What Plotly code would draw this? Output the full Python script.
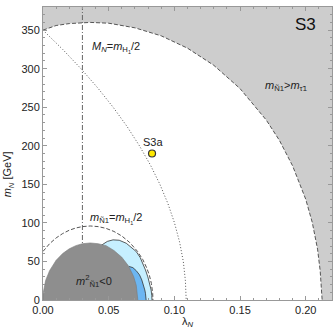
import plotly.graph_objects as go

# ---- data ----
# upper boundary of the excluded grey region (m_N1 > m_tau1)
bound_lam = [0.0, 0.01, 0.02, 0.036, 0.05, 0.07, 0.09, 0.11, 0.13, 0.15, 0.17, 0.18, 0.19, 0.20, 0.205, 0.209, 0.211, 0.2125]
bound_m   = [350, 356, 358.5, 360, 359, 353, 342.6, 326.6, 304.4, 274.2, 233.3, 207, 174, 130.7, 100.5, 66, 38, 0]

# dotted curve M_N = m_H1/2
dot_m   = [350, 325, 300, 275, 250, 225, 200, 175, 150, 125, 100, 75, 50, 25, 0]
dot_lam = [0.0, 0.0150, 0.0289, 0.0417, 0.0534, 0.0640, 0.0734, 0.0818, 0.0890, 0.0951, 0.1001, 0.1040, 0.1068, 0.1084, 0.109]

# dashed curve m_N1 = m_H1/2
hd_lam = [0.0, 0.005, 0.01, 0.015, 0.02, 0.025, 0.03, 0.036, 0.042, 0.048, 0.054, 0.06, 0.066, 0.072, 0.076, 0.079, 0.081, 0.0825, 0.0835, 0.0837]
hd_m   = [63, 73, 80.5, 86.2, 90.5, 93.4, 95.2, 96, 95.2, 92.9, 88.9, 83, 74.6, 63, 52.3, 41.5, 31.9, 21.5, 8.7, 0]

# tachyonic region m^2_N1 < 0
tach_lam = [0.0, 0.0, 0.002, 0.005, 0.01, 0.015, 0.02, 0.025, 0.03, 0.036, 0.042, 0.048, 0.054, 0.06, 0.065, 0.069, 0.071, 0.0722]
tach_m   = [0, 7.8, 25.4, 38, 51.5, 60.3, 66.4, 70.5, 73, 74, 73, 70.5, 64.2, 55.4, 44.3, 30.4, 18.9, 0]

# light blue region (outer visible boundary)
lb_lam = [0.0444, 0.049, 0.0533, 0.058, 0.0634, 0.068, 0.071, 0.074, 0.076, 0.078, 0.0798, 0.0812, 0.0823, 0.0828, 0.083]
lb_m   = [71, 76, 78, 77.5, 73.6, 67, 62.8, 55, 47.6, 39, 30, 21, 13, 6, 0]

# medium blue region (outer visible boundary)
mb_lam = [0.0655, 0.0684, 0.071, 0.0735, 0.0752, 0.0765, 0.0775, 0.078, 0.0785]
mb_m   = [43.5, 42, 38, 32.5, 26, 19.5, 13, 8.7, 0]

# benchmark point
pt_lam = [0.083]
pt_m = [190]
pt_name = ["S3a"]

vline_lam = 0.03

x_ticks = [0.0, 0.05, 0.10, 0.15, 0.20]
x_ticklabels = ["0.00", "0.05", "0.10", "0.15", "0.20"]
y_ticks = [0, 50, 100, 150, 200, 250, 300, 350]

XMAX, YMAX = 0.22, 380

fig = go.Figure()

# light grey excluded region
fig.add_trace(go.Scatter(
    x=bound_lam + [XMAX, XMAX, 0.0], y=bound_m + [0, YMAX, YMAX],
    fill="toself", fillcolor="#cdcdcd", line=dict(width=0), mode="lines",
    hoverinfo="skip", showlegend=False))
fig.add_trace(go.Scatter(
    x=bound_lam, y=bound_m, mode="lines",
    line=dict(color="#555555", width=1, dash="4px,2px"), showlegend=False))

# vertical dash-dot line
fig.add_trace(go.Scatter(
    x=[vline_lam, vline_lam], y=[0, YMAX], mode="lines",
    line=dict(color="#666666", width=1, dash="5px,2px,1px,2px"), showlegend=False))

# dotted curve
fig.add_trace(go.Scatter(
    x=dot_lam, y=dot_m, mode="lines",
    line=dict(color="#555555", width=1, dash="1px,2px"), showlegend=False))

# dashed small curve
fig.add_trace(go.Scatter(
    x=hd_lam, y=hd_m, mode="lines",
    line=dict(color="#555555", width=1, dash="4px,2px"), showlegend=False))

# light blue region
fig.add_trace(go.Scatter(
    x=lb_lam + [0.045], y=lb_m + [0], fill="toself", fillcolor="#c6efff",
    line=dict(width=0), mode="lines", hoverinfo="skip", showlegend=False))
fig.add_trace(go.Scatter(
    x=lb_lam, y=lb_m, mode="lines",
    line=dict(color="#333333", width=0.8), showlegend=False))

# medium blue region
fig.add_trace(go.Scatter(
    x=mb_lam + [0.066], y=mb_m + [0], fill="toself", fillcolor="#6cb6f2",
    line=dict(width=0), mode="lines", hoverinfo="skip", showlegend=False))
fig.add_trace(go.Scatter(
    x=mb_lam, y=mb_m, mode="lines",
    line=dict(color="#333333", width=0.8), showlegend=False))

# tachyonic region
fig.add_trace(go.Scatter(
    x=tach_lam, y=tach_m, fill="toself", fillcolor="#8e8e8e",
    line=dict(color="#7a7a7a", width=0.6), mode="lines", hoverinfo="skip", showlegend=False))

# benchmark point
fig.add_trace(go.Scatter(
    x=pt_lam, y=pt_m, mode="markers",
    marker=dict(color="#ffe800", size=7, line=dict(color="#333333", width=1.2)),
    showlegend=False))

font = dict(family="Liberation Sans, Arial, sans-serif", size=11, color="#222222")
ann = [
    dict(x=0.0356, y=327, text="<i>M<sub>N</sub></i>=<i>m</i><sub>H<sub>1</sub></sub>/2", xanchor="left"),
    dict(x=0.0557, y=106, text="<i>m</i><sub>Ñ1</sub>=<i>m</i><sub>H<sub>1</sub></sub>/2", xanchor="center"),
    dict(x=0.0385, y=24, text="<i>m</i><sup>2</sup><sub>Ñ1</sub><0", xanchor="center"),
    dict(x=0.185, y=278, text="<i>m</i><sub>Ñ1</sub>><i>m</i><sub>τ̃1</sub>", xanchor="center"),
    dict(x=pt_lam[0] + 0.001, y=pt_m[0] + 15, text=pt_name[0], xanchor="center"),
]
annotations = []
for a in ann:
    annotations.append(dict(xref="x", yref="y", showarrow=False, font=font, yanchor="middle", **a))
annotations.append(dict(xref="x", yref="y", x=0.2, y=357, text="S3", showarrow=False,
                        font=dict(family="Liberation Sans, Arial, sans-serif", size=17, color="#111111")))
annotations.append(dict(xref="paper", yref="paper", x=0.5, y=-0.075, text="λ<sub><i>N</i></sub>",
                        showarrow=False, font=font, yanchor="middle"))
annotations.append(dict(xref="paper", yref="paper", x=-0.12, y=0.43, text="<i>m<sub>N</sub></i> [GeV]",
                        textangle=-90, showarrow=False, font=font, xanchor="center", yanchor="middle"))

axis_common = dict(showline=True, linecolor="#999999", linewidth=1, mirror="allticks",
                   ticks="inside", ticklen=4, tickcolor="#999999", showgrid=False, zeroline=False,
                   tickfont=font)
fig.update_layout(
    width=334, height=329, margin=dict(l=43, r=2, t=7, b=29),
    plot_bgcolor="white", paper_bgcolor="white", showlegend=False,
    annotations=annotations,
    xaxis=dict(range=[0, XMAX], tickvals=x_ticks, ticktext=x_ticklabels,
               minor=dict(dtick=0.01, ticks="inside", ticklen=2, tickcolor="#999999"), **axis_common),
    yaxis=dict(range=[0, YMAX], tickvals=y_ticks,
               minor=dict(dtick=10, ticks="inside", ticklen=2, tickcolor="#999999"), **axis_common),
)

fig.write_html("out.html")
